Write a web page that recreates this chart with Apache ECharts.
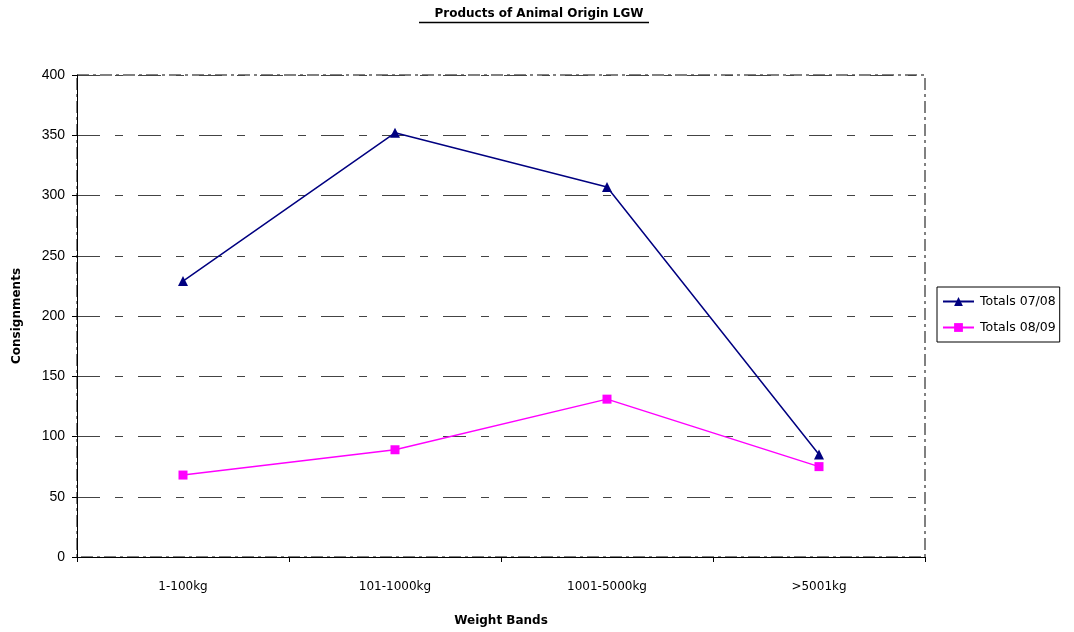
<!DOCTYPE html>
<html>
<head>
<meta charset="utf-8">
<script src="https://cdn.jsdelivr.net/npm/echarts@6/dist/echarts.min.js"></script>
<style>
  html, body { margin: 0; padding: 0; background: #fff; }
  #chart { width: 1074px; height: 632px; }
</style>
</head>
<body>
<div id="chart"></div>
<script>
// Consignments by weight band, two seasons
const categories = ['1-100kg', '101-1000kg', '1001-5000kg', '>5001kg'];
const totals0708 = [229, 352, 307, 85];
const totals0809 = [68, 89, 131, 75];
const seriesNames = ['Totals 07/08', 'Totals 08/09'];
const yTicks = { min: 0, max: 400, interval: 50 };

const roundFont = '"DejaVu Sans", sans-serif';
const plainFont = '"Liberation Sans", Arial, sans-serif';

const chart = echarts.init(document.getElementById('chart'));

chart.setOption({
  animation: false,
  backgroundColor: '#ffffff',
  title: {
    text: 'Products of Animal Origin LGW',
    left: 534,
    textAlign: 'center',
    top: 3,
    textStyle: { fontFamily: roundFont, fontSize: 12, fontWeight: 'bold', color: '#000' }
  },
  graphic: [{
    type: 'line',
    shape: { x1: 419, y1: 22.5, x2: 649, y2: 22.5 },
    style: { stroke: '#000', lineWidth: 1.3 }
  }],
  legend: {
    orient: 'vertical',
    left: 937,
    top: 287,
    width: 135,
    padding: [8, 4, 8, 5],
    itemGap: 13,
    itemWidth: 31,
    itemHeight: 11,
    borderColor: '#000',
    borderWidth: 1,
    borderRadius: 0,
    textStyle: { fontFamily: roundFont, fontSize: 12.5, color: '#000', padding: [0, 0, 0, 1] },
    data: seriesNames
  },
  grid: {
    left: 77, right: 149, top: 75, bottom: 75,
    show: true,
    borderColor: '#808080',
    borderWidth: 2,
    borderType: [12, 4, 3, 4],
    backgroundColor: 'transparent'
  },
  xAxis: {
    type: 'category',
    data: categories,
    boundaryGap: true,
    name: 'Weight Bands',
    nameLocation: 'middle',
    nameGap: 58,
    nameTextStyle: { fontFamily: roundFont, fontSize: 12, fontWeight: 'bold', color: '#000' },
    axisLine: { show: true, lineStyle: { color: '#000', width: 1 } },
    axisTick: { show: true, length: 5, lineStyle: { color: '#000' } },
    axisLabel: { margin: 24, fontFamily: roundFont, fontSize: 12, color: '#000' },
    splitLine: { show: false }
  },
  yAxis: {
    type: 'value',
    min: yTicks.min,
    max: yTicks.max,
    interval: yTicks.interval,
    name: 'Consignments',
    nameLocation: 'middle',
    nameGap: 54,
    nameRotate: 90,
    nameTextStyle: { fontFamily: roundFont, fontSize: 12, fontWeight: 'bold', color: '#000' },
    axisLine: { show: true, lineStyle: { color: '#000', width: 1 } },
    axisTick: { show: true, length: 5, lineStyle: { color: '#000' } },
    axisLabel: { margin: 12, fontFamily: plainFont, fontSize: 14, color: '#000' },
    splitLine: {
      show: true,
      lineStyle: { color: '#444', width: 1, type: [23, 15, 8, 15] }
    }
  },
  series: [
    {
      name: seriesNames[0],
      type: 'line',
      data: totals0708,
      symbol: 'triangle',
      symbolSize: 10,
      lineStyle: { color: '#000080', width: 1.5 },
      itemStyle: { color: '#000080' },
      z: 3
    },
    {
      name: seriesNames[1],
      type: 'line',
      data: totals0809,
      symbol: 'rect',
      symbolSize: 9,
      lineStyle: { color: '#ff00ff', width: 1.5 },
      itemStyle: { color: '#ff00ff' },
      z: 2
    }
  ]
});
</script>
</body>
</html>
